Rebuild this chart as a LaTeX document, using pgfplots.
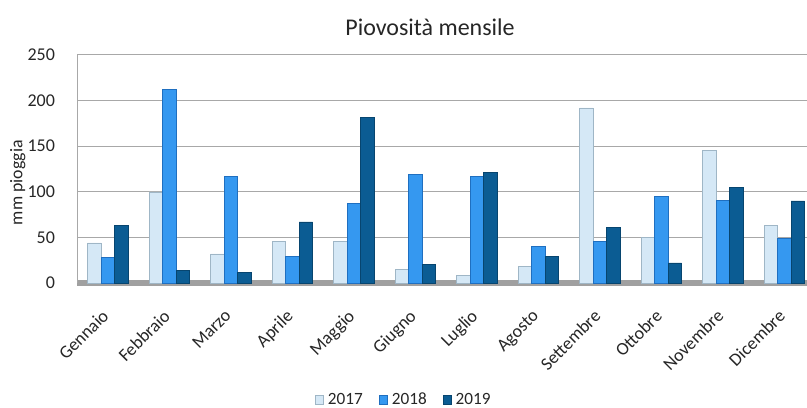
\documentclass[border=0pt]{standalone}
\usepackage{pgfplots}
\pgfplotsset{compat=1.18}
\usepackage{fontspec}
\setmainfont{Carlito}
\definecolor{cA}{HTML}{D5E8F6}
\definecolor{cAe}{HTML}{9FB6C6}
\definecolor{cB}{HTML}{3598F0}
\definecolor{cBe}{HTML}{1F6FC0}
\definecolor{cC}{HTML}{0B5C93}
\definecolor{cCe}{HTML}{07456F}
\definecolor{gridc}{HTML}{A8A8A8}
\definecolor{floorc}{HTML}{A0A0A0}
\definecolor{txt}{HTML}{262626}
\begin{document}
\begin{tikzpicture}
\useasboundingbox (0,0) rectangle (403.5pt,203.5pt);
\begin{axis}[
  at={(38.5pt,62pt)}, anchor=south west,
  scale only axis, width=365pt, height=114pt,
  xmin=-0.5, xmax=11.37, ymin=0, ymax=250,
  ybar=0pt, bar width=6.75pt,
  xtick={0,...,11},
  xticklabels={Gennaio,Febbraio,Marzo,Aprile,Maggio,Giugno,Luglio,Agosto,Settembre,Ottobre,Novembre,Dicembre},
  ytick={0,50,...,250},
  major tick length=0pt,
  axis y line*=left, axis x line*=bottom,
  y axis line style={draw=gridc, line width=0.5pt},
  x axis line style={draw=floorc, line width=3pt},
  ymajorgrids, grid style={draw=gridc, line width=0.5pt},
  /pgf/number format/assume math mode=true,
  yticklabel style={font=\fontsize{9}{10}\selectfont, text=txt, xshift=-7.5pt},
  xticklabel style={font=\fontsize{9}{10}\selectfont, text=txt, xshift=-3.5pt, yshift=-12.5pt, rotate=45, anchor=north east, inner sep=0pt},
  ylabel={mm pioggia},
  ylabel style={font=\fontsize{8.9}{9}\selectfont, text=txt, at={(axis description cs:-0.081,0.44)}, anchor=center, rotate=0},
  every axis title shift=0pt,
  title={Piovosità mensile},
  title style={font=\fontsize{12}{13}\selectfont, text=txt, at={(axis description cs:0.4836,1.123)}, anchor=center},
  legend columns=3,
  legend style={at={(axis description cs:0.449,-0.513)}, anchor=center, draw=none, fill=none, font=\fontsize{8.6}{9}\selectfont, text=txt,
    /tikz/every even column/.append style={column sep=6pt}},
  legend image code/.code={\fill[#1] (0pt,-2.1pt) rectangle (4.2pt,2.1pt);},
  clip=false,
]
\addplot[fill=cA, draw=cAe, line width=0.3pt] coordinates {(0,44) (1,100) (2,32) (3,46) (4,46) (5,15) (6,8) (7,18) (8,192) (9,50) (10,145) (11,63)};
\addplot[fill=cB, draw=cBe, line width=0.3pt] coordinates {(0,28) (1,212) (2,117) (3,29) (4,87) (5,119) (6,117) (7,40) (8,46) (9,95) (10,91) (11,49)};
\addplot[fill=cC, draw=cCe, line width=0.3pt] coordinates {(0,63) (1,14) (2,12) (3,67) (4,182) (5,20) (6,121) (7,29) (8,61) (9,22) (10,105) (11,90)};
\legend{2017,2018,2019}
\end{axis}
\end{tikzpicture}
\end{document}
